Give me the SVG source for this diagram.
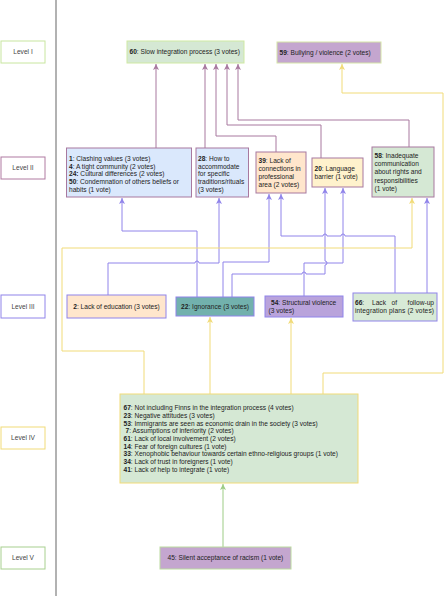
<svg xmlns="http://www.w3.org/2000/svg" width="447" height="599" viewBox="0 0 447 599">
<style>
text{font-family:"Liberation Sans",Arial,sans-serif;font-size:6.6px;fill:#222}
.b{font-weight:bold}
.lvl{fill:#fff;stroke-width:1}
.lt{fill:#444;text-anchor:middle}
.c{fill:none;stroke-width:1}
.m{stroke:#a8799f}
.bl{stroke:#9084ea}
.y{stroke:#f1db78}
.g{stroke:#9dcc85}
.ctr{text-anchor:middle}
</style>
<defs>
<marker id="am" markerUnits="userSpaceOnUse" markerWidth="8" markerHeight="8" refX="6" refY="3" orient="auto"><path d="M0,0 L6,3 L0,6 L1.5,3 z" fill="#a8799f"/></marker>
<marker id="ab" markerUnits="userSpaceOnUse" markerWidth="8" markerHeight="8" refX="6" refY="3" orient="auto"><path d="M0,0 L6,3 L0,6 L1.5,3 z" fill="#9084ea"/></marker>
<marker id="ay" markerUnits="userSpaceOnUse" markerWidth="8" markerHeight="8" refX="6" refY="3" orient="auto"><path d="M0,0 L6,3 L0,6 L1.5,3 z" fill="#f1db78"/></marker>
<marker id="ag" markerUnits="userSpaceOnUse" markerWidth="8" markerHeight="8" refX="6" refY="3" orient="auto"><path d="M0,0 L6,3 L0,6 L1.5,3 z" fill="#9dcc85"/></marker>
</defs>
<rect width="447" height="599" fill="#fff"/>
<line x1="56" y1="0" x2="56" y2="596" stroke="#999" stroke-width="1.5"/>

<g id="levels">
<g id="level1"><rect class="lvl" x="1" y="41" width="44" height="22" stroke="#c8e69f"/><text class="lt" x="23" y="54.3">Level I</text></g>
<g id="level2"><rect class="lvl" x="1" y="157" width="44" height="22" stroke="#b07aa1"/><text class="lt" x="23" y="170.3">Level II</text></g>
<g id="level3"><rect class="lvl" x="1" y="295" width="44" height="23" stroke="#9084ea"/><text class="lt" x="23" y="308.8">Level III</text></g>
<g id="level4"><rect class="lvl" x="1" y="427" width="44" height="22" stroke="#f1db78"/><text class="lt" x="23" y="440.3">Level IV</text></g>
<g id="level5"><rect class="lvl" x="1" y="547" width="44" height="22" stroke="#a8d08f"/><text class="lt" x="23" y="560.3">Level V</text></g>
</g>

<g id="connectors">
<path class="c m" d="M156,148 V64" marker-end="url(#am)"/>
<path class="c m" d="M205,148 V64" marker-end="url(#am)"/>
<path class="c m" d="M276,152 V136 H216 V64" marker-end="url(#am)"/>
<path class="c m" d="M321,158 V125 H227 V64" marker-end="url(#am)"/>
<path class="c m" d="M409,147 V120 H238 V64" marker-end="url(#am)"/>

<path class="c bl" d="M108,295 V263 H195 A2,2 0 0 1 199,263 H219 V198" marker-end="url(#ab)"/>
<path class="c bl" d="M197,297 V231 H122 V198" marker-end="url(#ab)"/>
<path class="c bl" d="M223,297 V262 H269 V194" marker-end="url(#ab)"/>
<path class="c bl" d="M232,297 V274 H302 A2,2 0 0 1 306,274 H325 V265 A2,2 0 0 0 325,261 V188" marker-end="url(#ab)"/>
<path class="c bl" d="M304,296 V263 H343 V188" marker-end="url(#ab)"/>
<path class="c bl" d="M395,293 V236 H345 A2,2 0 0 0 341,236 H327 A2,2 0 0 0 323,236 H281 V194" marker-end="url(#ab)"/>
<path class="c bl" d="M427,293 V198" marker-end="url(#ab)"/>

<path class="c y" d="M144,394 V351 H62 V248 H412 V198" marker-end="url(#ay)"/>
<path class="c y" d="M323,394 V373 H443 V93 H342 V64" marker-end="url(#ay)"/>
<path class="c y" d="M210,394 V317" marker-end="url(#ay)"/>
<path class="c y" d="M291,394 V318" marker-end="url(#ay)"/>

<path class="c g" d="M223,547 V484" marker-end="url(#ag)"/>
</g>

<g id="n60"><rect x="127" y="41" width="117" height="22" fill="#d5e8d4" stroke="#cfe9a3"/><text x="129.5" y="54.3"><tspan class="b">60</tspan>: Slow integration process (3 votes)</text></g>
<g id="n59"><rect x="277" y="42" width="104" height="21" fill="#c4a6cf" stroke="#d6e6a8"/><text x="279.5" y="54.8"><tspan class="b">59</tspan>: Bullying / violence (2 votes)</text></g>

<g id="n1"><rect x="66.5" y="148" width="125" height="49" fill="#dae8fc" stroke="#a8799f"/>
<text><tspan x="69" y="161.2"><tspan class="b">1</tspan>: Clashing values (3 votes)</tspan><tspan x="69" y="168.8"><tspan class="b">4</tspan>: A tight community (2 votes)</tspan><tspan x="69" y="176.4"><tspan class="b">24:</tspan> Cultural differences (2 votes)</tspan><tspan x="69" y="184"><tspan class="b">50</tspan>: Condemnation of others beliefs or</tspan><tspan x="69" y="191.6">habits (1 vote)</tspan></text></g>

<g id="n28"><rect x="196" y="148" width="52.5" height="49" fill="#dae8fc" stroke="#a8799f"/>
<text><tspan x="198" y="161.2"><tspan class="b">28</tspan>: How to</tspan><tspan x="198" y="168.8">accommodate</tspan><tspan x="198" y="176.4">for specific</tspan><tspan x="198" y="184">traditions/rituals</tspan><tspan x="198" y="191.6">(3 votes)</tspan></text></g>

<g id="n39"><rect x="256" y="152" width="50" height="41" fill="#ffe6cc" stroke="#a8799f"/>
<text><tspan x="258.5" y="163.2"><tspan class="b">39</tspan>: Lack of</tspan><tspan x="258.5" y="171">connections in</tspan><tspan x="258.5" y="178.8">professional</tspan><tspan x="258.5" y="186.6">area (2 votes)</tspan></text></g>

<g id="n20"><rect x="312" y="158" width="51" height="29" fill="#fff2cc" stroke="#a8799f"/>
<text><tspan x="314.5" y="171.2"><tspan class="b">20</tspan>: Language</tspan><tspan x="314.5" y="179">barrier (1 vote)</tspan></text></g>

<g id="n58"><rect x="372" y="147" width="62" height="50" fill="#d5e8d4" stroke="#a8799f"/>
<text><tspan x="374.5" y="158.2"><tspan class="b">58</tspan>: Inadequate</tspan><tspan x="374.5" y="166.2">communication</tspan><tspan x="374.5" y="174.4">about rights and</tspan><tspan x="374.5" y="182.6">responsibilities</tspan><tspan x="374.5" y="190.5">(1 vote)</tspan></text></g>

<g id="n2"><rect x="67" y="295" width="99" height="23" fill="#ffe6cc" stroke="#9084ea"/><text class="ctr" x="116.5" y="308.8"><tspan class="b">2</tspan>: Lack of education (3 votes)</text></g>
<g id="n22"><rect x="176" y="297" width="78" height="19" fill="#72b1ad" stroke="#9084ea"/><text class="ctr" x="215" y="308.8"><tspan class="b">22</tspan>: Ignorance (3 votes)</text></g>
<g id="n54"><rect x="265" y="296" width="78" height="21" fill="#b9a3db" stroke="#9084ea"/>
<text><tspan x="271" y="305"><tspan class="b">54</tspan>: Structural violence</tspan><tspan x="268.5" y="313">(3 votes)</tspan></text></g>
<g id="n66"><rect x="353" y="293" width="84" height="28" fill="#d8ead6" stroke="#9084ea"/>
<text y="305"><tspan x="355" class="b">66</tspan><tspan>:</tspan><tspan x="372">Lack</tspan><tspan x="391.5">of</tspan><tspan x="434" text-anchor="end">follow-up</tspan></text>
<text x="355" y="313" textLength="79" lengthAdjust="spacing">integration plans (2 votes)</text></g>

<g id="n67"><rect x="120" y="394" width="238" height="89" fill="#d5e8d4" stroke="#f1db78"/>
<text><tspan x="123.5" y="410.2"><tspan class="b">67</tspan>: Not including Finns in the integration process (4 votes)</tspan><tspan x="123.5" y="417.9"><tspan class="b">23</tspan>: Negative attitudes (3 votes)</tspan><tspan x="123.5" y="425.6"><tspan class="b">53</tspan>: Immigrants are seen as economic drain in the society (3 votes)</tspan><tspan x="125.5" y="433.3"><tspan class="b">7</tspan>: Assumptions of inferiority (2 votes)</tspan><tspan x="123.5" y="441"><tspan class="b">61</tspan>: Lack of local involvement (2 votes)</tspan><tspan x="123.5" y="448.7"><tspan class="b">14</tspan>: Fear of foreign cultures (1 vote)</tspan><tspan x="123.5" y="456.4"><tspan class="b">33</tspan>: Xenophobic behaviour towards certain ethno-religious groups (1 vote)</tspan><tspan x="123.5" y="464.1"><tspan class="b">34</tspan>: Lack of trust in foreigners (1 vote)</tspan><tspan x="123.5" y="471.8"><tspan class="b">41</tspan>: Lack of help to integrate (1 vote)</tspan></text></g>

<g id="n45"><rect x="160" y="547" width="131" height="22" fill="#c4a6cf" stroke="#bcdba0"/><text x="167.5" y="560.3">45: Silent acceptance of racism (1 vote)</text></g>
</svg>
